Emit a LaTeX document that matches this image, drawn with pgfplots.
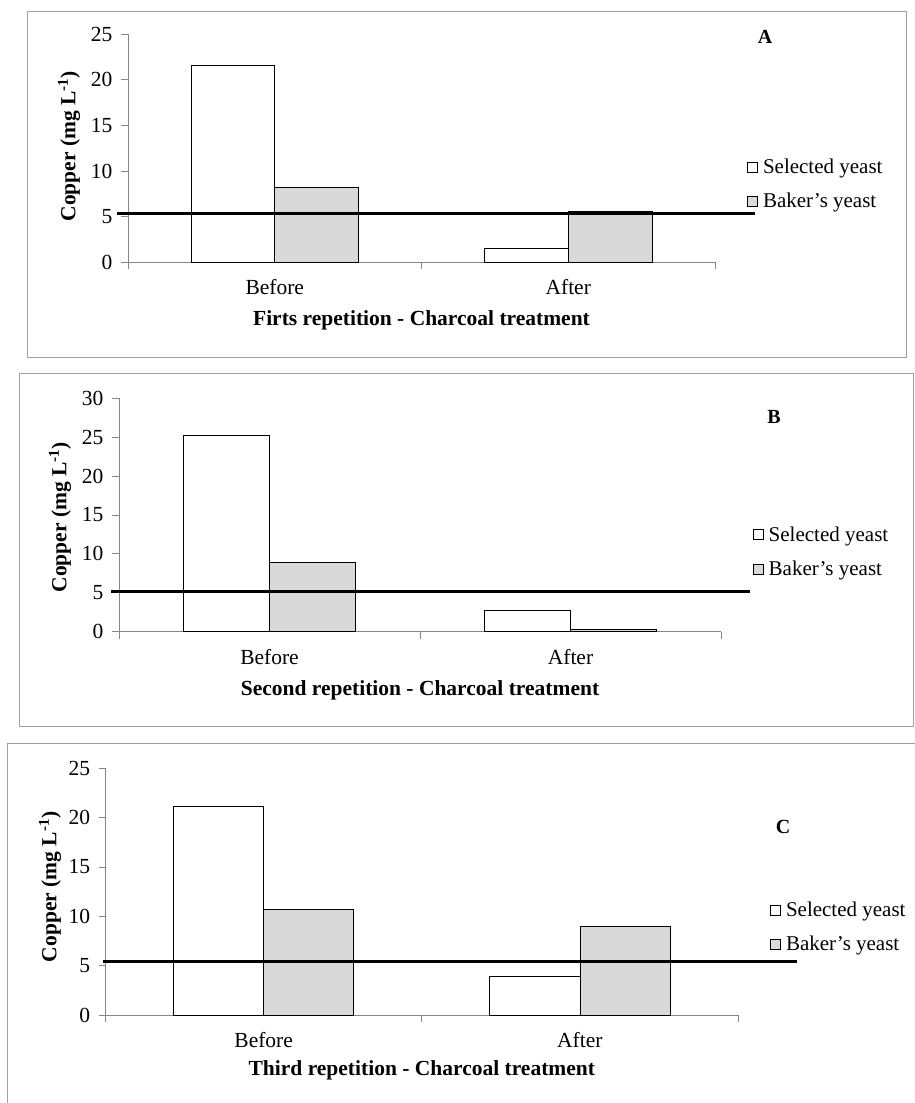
\documentclass[border=0pt]{standalone}
\usepackage{pgfplots}
\pgfplotsset{compat=1.18}
\usepackage{fontspec}
\setmainfont{Liberation Serif}
\definecolor{axgray}{RGB}{134,134,134}
\definecolor{framegray}{RGB}{160,160,160}
\definecolor{barfill}{RGB}{217,217,217}
\pgfplotsset{
  panel/.style={
    scale only axis, anchor=south west, ybar, bar width=0.285,
    xmin=-0.5, xmax=1.5, ymin=0,
    axis x line*=bottom, axis y line*=left,
    axis line style={axgray, line width=0.8pt, -},
    xtick={-0.5,0.5,1.5}, xticklabels={},
    extra x ticks={0,1}, extra x tick labels={Before,After},
    extra x tick style={major tick length=0pt, xticklabel style={yshift=-14pt}},
    tick align=outside, major tick length=7pt,
    tick style={axgray, line width=0.8pt},
    /pgf/number format/assume math mode=true,
    ticklabel style={font=\fontsize{21.5}{24}\selectfont},
    yticklabel style={xshift=-5pt},
    label style={font=\bfseries\fontsize{21.5}{24}\selectfont},
    ylabel={Copper (mg L\textsuperscript{-1})},
    clip=false,
    legend style={draw=none, fill=none, anchor=west, inner sep=0pt,
      font=\fontsize{21}{24}\selectfont, /tikz/row sep=14pt,
      /tikz/every odd column/.append style={column sep=3pt}},
    legend cell align=left,
    legend image code/.code={\draw[#1, line width=0.8pt] (0pt,-5pt) rectangle (10pt,5pt);},
  },
}
\begin{document}
\begin{tikzpicture}[x=1pt,y=1pt]
\useasboundingbox (0,0) rectangle (915,1103);
% frames
\draw[framegray, line width=1pt] (27.6,745) rectangle (906,1091.5);
\draw[framegray, line width=1pt] (19.4,376) rectangle (913,729);
\draw[framegray, line width=1pt] (7.6,0) -- (7.6,359) -- (915,359);

% Panel A
\begin{axis}[panel, at={(128pt,840.7pt)}, width=587pt, height=228.3pt,
  ymax=25, ytick={0,5,...,25},
  xlabel={Firts repetition - Charcoal treatment},
  xlabel style={at={(axis description cs:0.5,-0.253)}, anchor=center},
  ylabel style={at={(axis description cs:-0.1005,0.509)}, anchor=center},
  legend style={at={(1.0545,0.343)}}]
\addplot[draw=black, fill=white, line width=0.8pt, bar shift=-0.1425] coordinates {(0,21.6) (1,1.5)};
\addplot[draw=black, fill=barfill, line width=0.8pt, bar shift=0.1425] coordinates {(0,8.2) (1,5.6)};
\addplot[black, line width=3pt, sharp plot, no marks, forget plot] coordinates {(-0.5375,5.3) (1.636,5.3)};
\legend{Selected yeast, Baker's yeast}
\end{axis}
\node[font=\bfseries\fontsize{20}{22}\selectfont] at (765,1066) {A};

% Panel B
\begin{axis}[panel, at={(119pt,471.3pt)}, width=602pt, height=233.4pt,
  ymax=30, ytick={0,5,...,30},
  xlabel={Second repetition - Charcoal treatment},
  xlabel style={at={(axis description cs:0.5,-0.25)}, anchor=center},
  ylabel style={at={(axis description cs:-0.098,0.49)}, anchor=center},
  legend style={at={(1.0527,0.342)}}]
\addplot[draw=black, fill=white, line width=0.8pt, bar shift=-0.1425] coordinates {(0,25.2) (1,2.7)};
\addplot[draw=black, fill=barfill, line width=0.8pt, bar shift=0.1425] coordinates {(0,8.9) (1,0.3)};
\addplot[black, line width=3pt, sharp plot, no marks, forget plot] coordinates {(-0.527,5.2) (1.596,5.2)};
\legend{Selected yeast, Baker's yeast}
\end{axis}
\node[font=\bfseries\fontsize{20}{22}\selectfont] at (774,686.3) {B};

% Panel C
\begin{axis}[panel, at={(105.6pt,88pt)}, width=632.4pt, height=246.7pt,
  ymax=25, ytick={0,5,...,25},
  xlabel={Third repetition - Charcoal treatment},
  xlabel style={at={(axis description cs:0.5,-0.223)}, anchor=center},
  ylabel style={at={(axis description cs:-0.088,0.519)}, anchor=center},
  legend style={at={(1.0506,0.355)}}]
\addplot[draw=black, fill=white, line width=0.8pt, bar shift=-0.1425] coordinates {(0,21.1) (1,3.9)};
\addplot[draw=black, fill=barfill, line width=0.8pt, bar shift=0.1425] coordinates {(0,10.7) (1,9.0)};
\addplot[black, line width=3pt, sharp plot, no marks, forget plot] coordinates {(-0.509,5.4) (1.685,5.4)};
\legend{Selected yeast, Baker's yeast}
\end{axis}
\node[font=\bfseries\fontsize{20}{22}\selectfont] at (783,276.3) {C};
\end{tikzpicture}
\end{document}
